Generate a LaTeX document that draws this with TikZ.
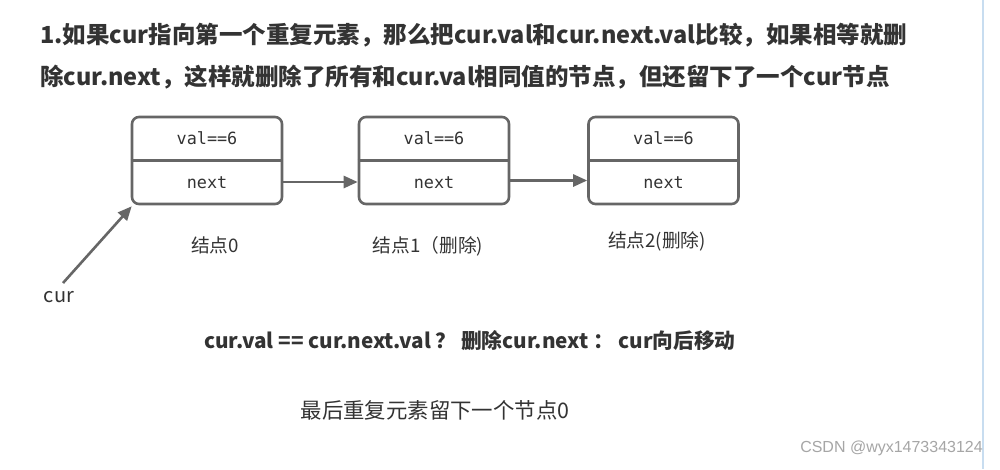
\documentclass[tikz,border=0pt]{standalone}
\usepackage{fontspec}
\setmainfont{Noto Sans CJK SC}
\newfontfamily\monof{DejaVu Sans Mono}
\newfontfamily\wmfont{Liberation Sans}
\usetikzlibrary{arrows.meta}
\definecolor{boxgray}{HTML}{666666}
\definecolor{txt}{HTML}{333333}
\definecolor{sidebar}{HTML}{C8DDF0}
\tikzset{
  box/.style={draw=boxgray, line width=2.6pt, rounded corners=7pt, minimum width=150pt, minimum height=87pt, inner sep=0pt},
  arr/.style={draw=boxgray, line width=2.6pt, -{Triangle[length=14pt,width=12pt]}},
  mono/.style={font=\monof\fontsize{16.8}{20}\selectfont, text=txt},
  lbl/.style={font=\fontsize{18.7}{22}\selectfont, text=txt},
  title/.style={font=\bfseries\fontsize{23.5}{28}\selectfont, text=txt, anchor=west, inner sep=0pt}
}
\begin{document}
\begin{tikzpicture}[x=1pt,y=-1pt]
\useasboundingbox[fill=white] (0,0) rectangle (1000,469);
\draw[sidebar, line width=2pt] (983,0) -- (983,469);
% title
\node[title] (t1) at (40,35) {1.如果cur指向第一个重复元素，那么把cur.val和cur.next.val比较，如果相等就删};
\node[title] (t2) at (40,77) {除cur.next，这样就删除了所有和cur.val相同值的节点，但还留下了一个cur节点};
% boxes
\node[box] (n0) at (207,160.5) {};
\node[box] (n1) at (434,160.5) {};
\node[box] (n2) at (663.5,160.5) {};
\foreach \n in {n0,n1,n2}{
  \draw[boxgray, line width=2.6pt] (\n.west) -- (\n.east);
  \node[mono] (\n v) at ([yshift=22pt]\n.center) {val==6};
  \node[mono] (\n x) at ([yshift=-22pt]\n.center) {next};
}
\draw[arr] ([yshift=-21.5pt]n0.east) -- ([yshift=-21.5pt]n1.west);
\draw[arr] ([yshift=-20pt]n1.east) -- ([yshift=-20pt]n2.west);
% labels
\node[lbl] (l0) at (215,245) {结点0};
\node[lbl] (l1) at (428,246) {结点1（删除)};
\node[lbl] (l2) at (657,241) {结点2(删除)};
% cur
\node[font=\fontsize{20}{24}\selectfont, text=txt] (cur) at (59,297) {cur};
\coordinate (curtail) at (63,283);
\draw[arr] (curtail) -- ([xshift=1pt,yshift=-1pt]n0.south west);
% formula
\node[font=\bfseries\fontsize{20.7}{25}\selectfont, text=txt] (f) at (470,341) {cur.val == cur.next.val ？ 删除cur.next ： cur向后移动};
\node[font=\fontsize{21.4}{25}\selectfont, text=txt] (r) at (435,410) {最后重复元素留下一个节点0};
% watermark
\node[font=\wmfont\fontsize{16}{19}\selectfont, text=gray!70, anchor=east, inner sep=0pt] (wm) at (983,448) {CSDN @wyx1473343124};
\end{tikzpicture}
\end{document}
